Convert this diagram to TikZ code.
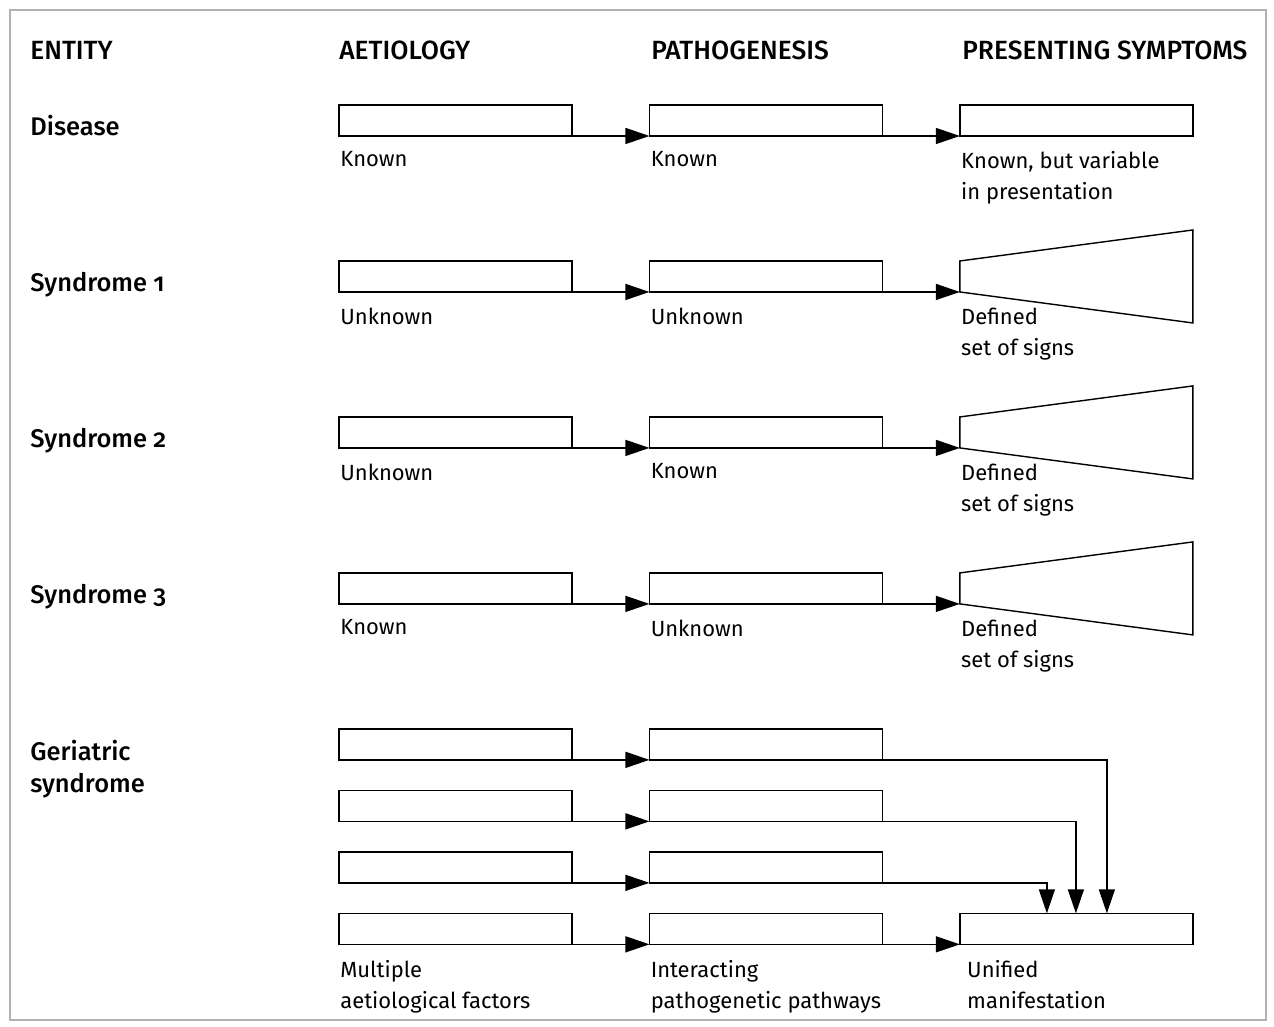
\documentclass[tikz,border=0pt]{standalone}
\usepackage{fontspec}
\setmainfont{Fira Sans}[Numbers=OldStyle, BoldFont={Fira Sans Medium}]
\usetikzlibrary{positioning, arrows.meta, calc}

\begin{document}
\begin{tikzpicture}[
    x=0.02cm, y=-0.02cm,
    >={Triangle[length=0.48cm, width=0.32cm]},
    node distance=2.5cm and 1.55cm,
    box/.style={draw, thick, minimum width=4.66cm, minimum height=0.62cm,
                inner sep=0pt, outer sep=0pt},
    edge/.style={minimum width=0pt, minimum height=0.62cm, inner sep=0pt,
                 outer sep=0pt},
    head/.style={font=\fontsize{15}{17}\selectfont\bfseries,
                 inner sep=0pt, anchor=base west},
    ent/.style={font=\fontsize{14.5}{18.2}\selectfont\bfseries,
                inner sep=0pt},
    lbl/.style={font=\fontsize{12.5}{17.6}\selectfont, inner sep=0pt,
                align=left},
    link/.style={->, thick}
]
\useasboundingbox (0,0) rectangle (1274,1027);
\draw[black!30, line width=1pt] (10,10) rectangle (1266,1020);

%---------------- column heads ----------------
\node[head] (hE) at (30,60) {ENTITY};
\node[head] (hA) at (339,60) {AETIOLOGY};
\node[head] (hP) at (651,60) {PATHOGENESIS};
\node[head] (hS) at (962,60) {PRESENTING SYMPTOMS};

%---------------- Disease ----------------
\node[ent, anchor=base west] (eD) at (30,136) {Disease};
\node[box, anchor=north west] (aD) at (339,105) {};
\node[box, right=of aD] (pD) {};
\node[box, right=of pD] (sD) {};
\draw[link] (aD.south east) -- (pD.south west);
\draw[link] (pD.south east) -- (sD.south west);
\node[lbl, below right=0.31cm and 0.02cm of aD.south west] (laD) {Known};
\node[lbl, below right=0.31cm and 0.02cm of pD.south west] (lpD) {Known};
\node[lbl, below right=0.31cm and 0.02cm of sD.south west] (lsD)
    {Known, but variable\\in presentation};

%---------------- Syndrome 1 ----------------
\node[ent, anchor=base west] (e1) at (30,291) {Syndrome 1};
\node[box, below=of aD] (a1) {};
\node[box, right=of a1] (p1) {};
\node[edge, right=of p1] (s1) {};
\draw[thick] (s1.north west) -- ++(233,-31) -- ++(0,93) -- (s1.south west) -- cycle;
\draw[link] (a1.south east) -- (p1.south west);
\draw[link] (p1.south east) -- (s1.south west);
\node[lbl, below right=0.31cm and 0.02cm of a1.south west] (la1) {Unknown};
\node[lbl, below right=0.31cm and 0.02cm of p1.south west] (lp1) {Unknown};
\node[lbl, below right=0.31cm and 0.02cm of s1.south west] (ls1)
    {Defined\\set of signs};

%---------------- Syndrome 2 ----------------
\node[ent, anchor=base west] (e2) at (30,447) {Syndrome 2};
\node[box, below=of a1] (a2) {};
\node[box, right=of a2] (p2) {};
\node[edge, right=of p2] (s2) {};
\draw[thick] (s2.north west) -- ++(233,-31) -- ++(0,93) -- (s2.south west) -- cycle;
\draw[link] (a2.south east) -- (p2.south west);
\draw[link] (p2.south east) -- (s2.south west);
\node[lbl, below right=0.31cm and 0.02cm of a2.south west] (la2) {Unknown};
\node[lbl, below right=0.31cm and 0.02cm of p2.south west] (lp2) {Known};
\node[lbl, below right=0.31cm and 0.02cm of s2.south west] (ls2)
    {Defined\\set of signs};

%---------------- Syndrome 3 ----------------
\node[ent, anchor=base west] (e3) at (30,603) {Syndrome 3};
\node[box, below=of a2] (a3) {};
\node[box, right=of a3] (p3) {};
\node[edge, right=of p3] (s3) {};
\draw[thick] (s3.north west) -- ++(233,-31) -- ++(0,93) -- (s3.south west) -- cycle;
\draw[link] (a3.south east) -- (p3.south west);
\draw[link] (p3.south east) -- (s3.south west);
\node[lbl, below right=0.31cm and 0.02cm of a3.south west] (la3) {Known};
\node[lbl, below right=0.31cm and 0.02cm of p3.south west] (lp3) {Unknown};
\node[lbl, below right=0.31cm and 0.02cm of s3.south west] (ls3)
    {Defined\\set of signs};

%---------------- Geriatric syndrome ----------------
\node[ent, align=left, anchor=north west] (eG) at (30,740) {Geriatric\\syndrome};
\node[box, below=of a3] (aG1) {};
\node[box, below=0.61cm of aG1] (aG2) {};
\node[box, below=0.61cm of aG2] (aG3) {};
\node[box, below=0.61cm of aG3] (aG4) {};
\node[box, right=of aG1] (pG1) {};
\node[box, right=of aG2] (pG2) {};
\node[box, right=of aG3] (pG3) {};
\node[box, right=of aG4] (pG4) {};
\node[box, right=of pG4] (sG) {};
\draw[link] (aG1.south east) -- (pG1.south west);
\draw[link] (aG2.south east) -- (pG2.south west);
\draw[link] (aG3.south east) -- (pG3.south west);
\draw[link] (aG4.south east) -- (pG4.south west);
\draw[link] (pG4.south east) -- (sG.south west);

% converging pathways
\coordinate (in1) at ($(sG.north west)+(147,0)$);
\coordinate (in2) at ($(sG.north west)+(116,0)$);
\coordinate (in3) at ($(sG.north west)+(87,0)$);
\draw[link] (pG1.south east) -| (in1);
\draw[link] (pG2.south east) -| (in2);
\draw[link] (pG3.south east) -| (in3);

\node[lbl, below right=0.31cm and 0.02cm of aG4.south west] (laG)
    {Multiple\\aetiological factors};
\node[lbl, below right=0.31cm and 0.02cm of pG4.south west] (lpG)
    {Interacting\\pathogenetic pathways};
\node[lbl, below right=0.31cm and 0.14cm of sG.south west] (lsG)
    {Unified\\manifestation};

\end{tikzpicture}
\end{document}
